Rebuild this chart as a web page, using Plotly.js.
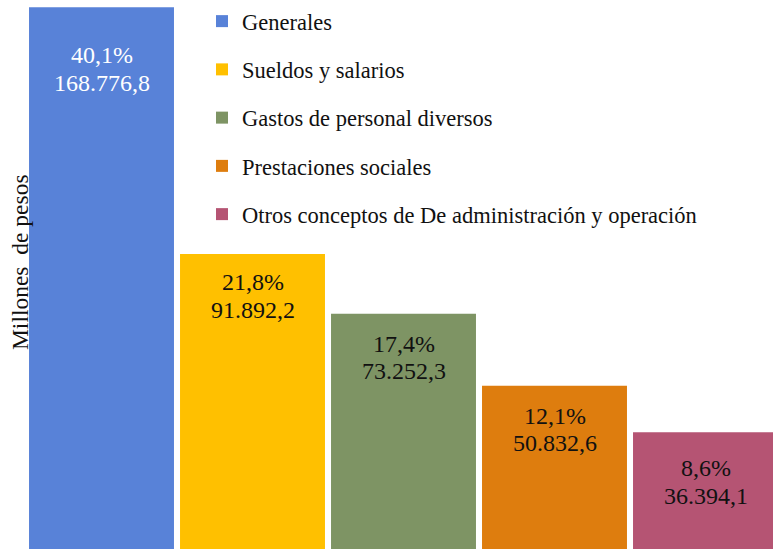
<!DOCTYPE html>
<html>
<head>
<meta charset="utf-8">
<script src="https://cdn.plot.ly/plotly-3.0.1.min.js"></script>
<style>
html,body{margin:0;padding:0;background:#fff;}
#chart{width:773px;height:550px;}
#chart text{font-family:'Liberation Serif','Times New Roman',serif !important;}
</style>
</head>
<body>
<div id="chart"></div>
<script>
// ---- data ----
const categories = ["Generales", "Sueldos y salarios", "Gastos de personal diversos", "Prestaciones sociales", "Otros conceptos de De administración y operación"];
const values = [168776.8, 91892.2, 73252.3, 50832.6, 36394.1];
const percents = [40.1, 21.8, 17.4, 12.1, 8.6];
const yTitle = "Millones \u00a0de pesos";

// ---- style ----
const colors = ["#5882D8", "#FFC000", "#7E9464", "#DE7D0E", "#B55473"];
const labelColors = ["#ffffff", "#111111", "#111111", "#111111", "#111111"];
const labelOffsets = [48, 28, 30, 30, 36];
const FONT = "Liberation Serif";

function fmtEs(v, d) {
  const s = v.toFixed(d);
  const parts = s.split(".");
  const intPart = parts[0].replace(/\B(?=(\d{3})+(?!\d))/g, ".");
  return parts.length > 1 ? intPart + "," + parts[1] : intPart;
}

const traces = categories.map((c, i) => ({
  type: "bar",
  x: [c],
  y: [values[i]],
  name: c,
  legendgroup: "g" + i,
  marker: { color: colors[i], line: { width: 0 } },
  hoverinfo: "skip"
}));

const annotations = [];
categories.forEach((c, i) => {
  annotations.push({
    x: c, y: values[i], xref: "x", yref: "y",
    text: fmtEs(percents[i], 1) + "%",
    showarrow: false, yanchor: "middle", xanchor: "center",
    yshift: -labelOffsets[i],
    font: { family: FONT, size: 24, color: labelColors[i] }
  });
  annotations.push({
    x: c, y: values[i], xref: "x", yref: "y",
    text: fmtEs(values[i], 1),
    showarrow: false, yanchor: "middle", xanchor: "center",
    yshift: -(labelOffsets[i] + 27.5),
    font: { family: FONT, size: 24, color: labelColors[i] }
  });
});
annotations.push({
  xref: "paper", yref: "paper", x: -0.008, y: 0.5236,
  text: yTitle, textangle: -90, showarrow: false,
  xanchor: "center", yanchor: "middle",
  font: { family: FONT, size: 23.5, color: "#111111" }
});

const layout = {
  width: 773, height: 550,
  margin: { l: 26, r: 0, t: 0, b: 0, pad: 0 },
  paper_bgcolor: "#ffffff", plot_bgcolor: "#ffffff",
  barmode: "relative",
  bargap: 0.04,
  showlegend: true,
  legend: {
    x: 0.2356, y: 1, xanchor: "left", yanchor: "top",
    bgcolor: "rgba(0,0,0,0)",
    font: { family: FONT, size: 22.5, color: "#111111" },
    traceorder: "grouped",
    tracegroupgap: 16
  },
  xaxis: { visible: false, type: "category", range: [-0.5, 4.447], fixedrange: true },
  yaxis: { visible: false, range: [-311, 171029], fixedrange: true },
  annotations: annotations,
  font: { family: FONT }
};

Plotly.newPlot("chart", traces, layout, { displayModeBar: false, staticPlot: true });
</script>
</body>
</html>
